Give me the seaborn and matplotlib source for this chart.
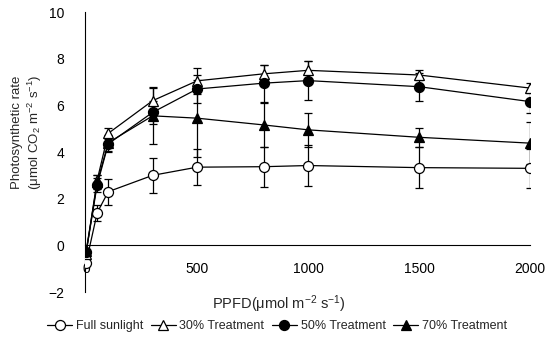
import matplotlib
matplotlib.use("Agg")
import matplotlib.pyplot as plt
import seaborn as sns
import numpy as np

ppfd = [0, 50, 100, 300, 500, 800, 1000, 1500, 2000]
full_sun = [-0.75, 1.4, 2.3, 3.0, 3.35, 3.37, 3.42, 3.33, 3.3]
full_sun_err = [0.1, 0.35, 0.55, 0.75, 0.77, 0.85, 0.87, 0.88, 0.85]
t30 = [-0.35, 2.8, 4.8, 6.2, 7.05, 7.35, 7.5, 7.3, 6.74]
t30_err = [0.1, 0.2, 0.25, 0.6, 0.55, 0.4, 0.38, 0.2, 0.2]
t50 = [-0.3, 2.6, 4.35, 5.7, 6.7, 6.95, 7.06, 6.8, 6.16]
t50_err = [0.1, 0.3, 0.35, 0.5, 0.6, 0.8, 0.82, 0.6, 0.5]
t70 = [-0.25, 2.7, 4.4, 5.55, 5.45, 5.16, 4.95, 4.63, 4.38]
t70_err = [0.1, 0.3, 0.35, 1.2, 1.65, 0.93, 0.72, 0.4, 0.9]
labels = ["Full sunlight", "30% Treatment", "50% Treatment", "70% Treatment"]
xticks = [0, 500, 1000, 1500, 2000]
yticks = [-2, 0, 2, 4, 6, 8, 10]

sns.set_style("white")
plt.rcParams["font.family"] = ["Liberation Sans", "DejaVu Sans"]
plt.rcParams["mathtext.default"] = "regular"

fig = plt.figure(figsize=(5.48, 3.47), dpi=100)
ax = fig.add_axes([85/548, 1-292/347, (530-85)/548, 280/347])

series = [(full_sun, full_sun_err, "o", "white"),
          (t30, t30_err, "^", "white"),
          (t50, t50_err, "o", "black"),
          (t70, t70_err, "^", "black")]

for (vals, errs, mk, fc), lab in zip(series, labels):
    ax.errorbar(ppfd, vals, yerr=errs, fmt="none", ecolor="black",
                elinewidth=0.9, capsize=3, capthick=0.9, zorder=2)
    sns.lineplot(x=ppfd, y=vals, ax=ax, color="black", linewidth=0.9,
                 marker=mk, markersize=7.2 if mk == "o" else 6.8,
                 markerfacecolor=fc, markeredgecolor="black",
                 markeredgewidth=0.9, label=lab, zorder=3)

ax.set_xlim(-5, 2000)
ax.set_ylim(-2, 10)
ax.set_xticks(xticks)
ax.set_yticks(yticks)
ax.spines["top"].set_visible(False)
ax.spines["right"].set_visible(False)
ax.spines["bottom"].set_position(("data", 0))
for s in ["left", "bottom"]:
    ax.spines[s].set_color("black")
    ax.spines[s].set_linewidth(0.8)
ax.tick_params(axis="both", direction="in", length=4, width=0.8,
               colors="black", labelsize=10)
ax.tick_params(axis="y", pad=15)
ax.tick_params(axis="x", pad=12)

ax.set_xlabel("PPFD(μmol m$^{-2}$ s$^{-1}$)", fontsize=10.5)
ax.xaxis.set_label_coords(0.436, -0.005)
ax.set_ylabel("Photosynthetic rate\n(μmol CO$_2$ m$^{-2}$ s$^{-1}$)", fontsize=9.5,
              linespacing=1.2)
ax.yaxis.set_label_coords(-0.093, 0.57)

if ax.legend_:
    ax.legend_.remove()
handles, labs = ax.get_legend_handles_labels()
fig.legend(handles, labs, loc="center", bbox_to_anchor=(277/548, 1-326/347),
           ncol=4, frameon=False, fontsize=9, handlelength=2.0,
           handletextpad=0.3, columnspacing=0.6, borderaxespad=0)

fig.savefig("out.png", dpi=100)
